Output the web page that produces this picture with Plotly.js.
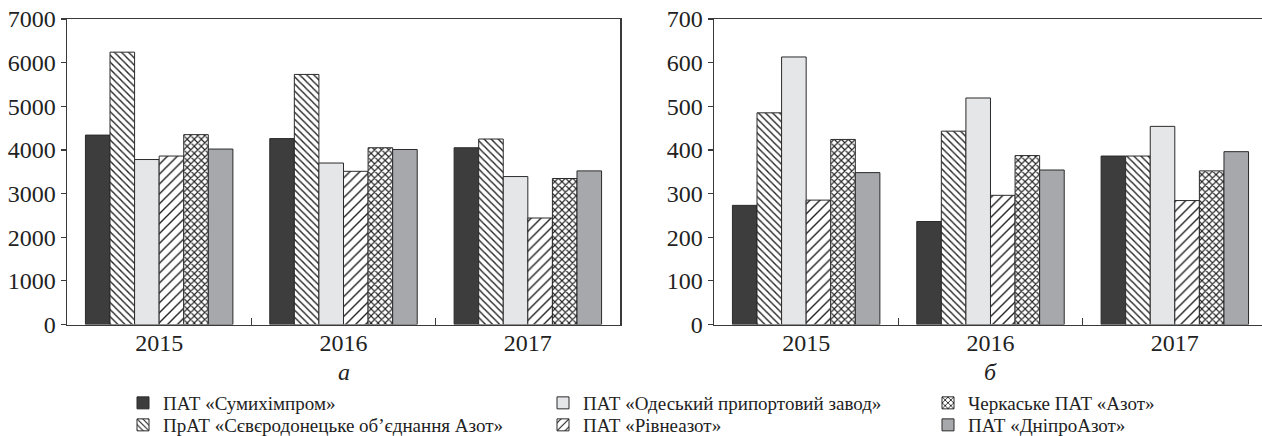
<!DOCTYPE html>
<html>
<head>
<meta charset="utf-8">
<script src="https://cdn.plot.ly/plotly-3.0.1.min.js"></script>
<style>
html,body{margin:0;padding:0;background:#fff;}
#chart{width:1262px;height:436px;}
</style>
</head>
<body>
<div id="chart"></div>
<script>
// ---- data ----
const years = ['2015', '2016', '2017'];
const companies = [
  'ПАТ «Сумихімпром»',
  'ПрАТ «Сєвєродонецьке об’єднання Азот»',
  'ПАТ «Одеський припортовий завод»',
  'ПАТ «Рівнеазот»',
  'Черкаське ПАТ «Азот»',
  'ПАТ «ДніпроАзот»'
];
// chart а
const sumyA    = [4340, 4260, 4050];
const severA   = [6240, 5730, 4250];
const odesaA   = [3780, 3700, 3390];
const rivneA   = [3860, 3510, 2440];
const cherkA   = [4350, 4050, 3345];
const dniproA  = [4020, 4010, 3520];
// chart б
const sumyB    = [273, 236, 386];
const severB   = [485, 443, 386];
const odesaB   = [613, 519, 454];
const rivneB   = [285, 296, 284];
const cherkB   = [424, 387, 352];
const dniproB  = [348, 354, 396];
const ticksA = [0, 1000, 2000, 3000, 4000, 5000, 6000, 7000];
const ticksB = [0, 100, 200, 300, 400, 500, 600, 700];
const panelLabels = ['а', 'б'];

// ---- styles ----
const outline = {color: '#2b2b2b', width: 1};
const styles = [
  {color: '#3d3d3d'},
  {color: '#ffffff', pattern: {shape: '\\', bgcolor: '#ffffff', fgcolor: '#222', size: 5, solidity: 0.28}},
  {color: '#e5e6e8'},
  {color: '#ffffff', pattern: {shape: '/', bgcolor: '#ffffff', fgcolor: '#222', size: 7, solidity: 0.2}},
  {color: '#ffffff', pattern: {shape: 'x', bgcolor: '#ffffff', fgcolor: '#222', size: 5, solidity: 0.4}},
  {color: '#a7a8ab'}
];
const legendIds = ['legend', 'legend2', 'legend3', 'legend4', 'legend5', 'legend6'];

const seriesA = [sumyA, severA, odesaA, rivneA, cherkA, dniproA];
const seriesB = [sumyB, severB, odesaB, rivneB, cherkB, dniproB];

const traces = [];
seriesA.forEach((vals, i) => {
  traces.push({
    type: 'bar', x: years, y: vals, name: companies[i],
    xaxis: 'x', yaxis: 'y', legend: legendIds[i],
    marker: Object.assign({line: outline}, styles[i]),
    hoverinfo: 'y'
  });
});
seriesB.forEach((vals, i) => {
  traces.push({
    type: 'bar', x: years, y: vals, name: companies[i],
    xaxis: 'x2', yaxis: 'y2', showlegend: false,
    marker: Object.assign({line: outline}, styles[i]),
    hoverinfo: 'y'
  });
});

const W = 1262, H = 436;
const font = 'Liberation Serif, Times New Roman, serif';
const axisColor = '#3a3a3a';
const yDom = [(H - 324.5) / H, (H - 19) / H];

function xAxis(dom, range) {
  return {
    domain: dom, range: range, type: 'category',
    showline: true, mirror: true, linecolor: axisColor, linewidth: 1.5,
    ticks: 'inside', tickson: 'boundaries', ticklen: 7, tickwidth: 1.2, tickcolor: axisColor,
    ticklabelstandoff: -4,
    tickfont: {family: font, size: 24, color: '#222'},
    showgrid: false, zeroline: false, fixedrange: true
  };
}
function yAxis(range, tv, mirror) {
  return {
    domain: yDom, range: range, tickvals: tv, ticktext: tv.map(String),
    showline: true, mirror: mirror, linecolor: axisColor, linewidth: 1.5,
    ticks: 'outside', ticklen: 5, tickwidth: 1.2, tickcolor: axisColor,
    tickfont: {family: font, size: 24, color: '#222'},
    showgrid: false, zeroline: false, fixedrange: true
  };
}

const legendBase = {
  orientation: 'v', xanchor: 'left', yanchor: 'middle', bgcolor: 'rgba(0,0,0,0)',
  font: {family: font, size: 19, color: '#222'}, borderwidth: 0, itemclick: false, itemdoubleclick: false
};
const legPos = {
  legend:  [123, 403], legend2: [123, 425],
  legend3: [543, 403], legend4: [543, 425],
  legend5: [928, 403], legend6: [928, 425]
};

const layout = {
  width: W, height: H,
  margin: {l: 0, r: 0, t: 0, b: 0, autoexpand: false},
  paper_bgcolor: '#fff', plot_bgcolor: '#fff',
  barmode: 'group', bargap: 0.2, bargroupgap: 0,
  xaxis: xAxis([67 / W, 620 / W], [-0.5, 2.5]),
  yaxis: Object.assign(yAxis([0, 7000], ticksA, true), {anchor: 'x'}),
  xaxis2: Object.assign(xAxis([714 / W, 1], [-0.5, 2.473]), {anchor: 'y2'}),
  yaxis2: Object.assign(yAxis([0, 700], ticksB, false), {anchor: 'x2'}),
  annotations: [
    {text: panelLabels[0], xref: 'paper', yref: 'paper', x: 343.5 / W, y: (H - 372) / H,
     xanchor: 'center', yanchor: 'middle',
     showarrow: false, font: {family: font, size: 24, color: '#222', style: 'italic'}},
    {text: panelLabels[1], xref: 'paper', yref: 'paper', x: 990 / W, y: (H - 372) / H,
     xanchor: 'center', yanchor: 'middle',
     showarrow: false, font: {family: font, size: 24, color: '#222', style: 'italic'}}
  ],
  showlegend: true
};
Object.keys(legPos).forEach(k => {
  layout[k] = Object.assign({}, legendBase, {x: legPos[k][0] / W, y: (H - legPos[k][1]) / H});
});

Plotly.newPlot('chart', traces, layout, {staticPlot: true, displayModeBar: false});
</script>
</body>
</html>
